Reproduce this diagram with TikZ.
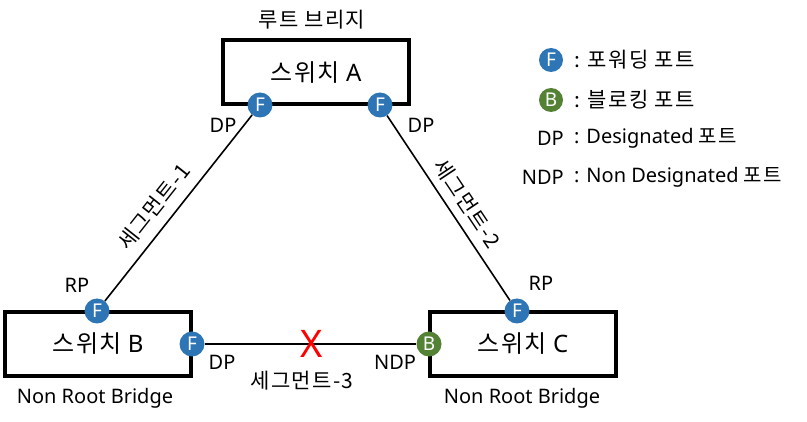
\documentclass[tikz,border=0pt]{standalone}
\usepackage{fontspec}
\setmainfont{Noto Sans}
\newfontfamily\kr[LetterSpace=6]{Noto Sans CJK KR}
\definecolor{portblue}{HTML}{2E75B6}
\definecolor{portgreen}{HTML}{548235}
\begin{document}
\begin{tikzpicture}[x=1pt,y=-1pt,
  sw/.style={draw, line width=4pt, minimum width=186pt, minimum height=64pt, inner sep=0, font=\fontsize{24}{27}\selectfont},
  fport/.style={circle, fill=portblue, text=white, minimum size=25pt, inner sep=0, font=\fontsize{19}{21}\selectfont},
  bport/.style={fport, fill=portgreen},
  lbl/.style={inner sep=0, font=\fontsize{20}{23}\selectfont},
  klbl/.style={inner sep=0, font=\kr\fontsize{21}{24}\selectfont},
  link/.style={line width=1.6pt},
  redx/.style={inner sep=0, text=red, font=\fontsize{38}{40}\selectfont},
]
\useasboundingbox (0,0) rectangle (807,422);

% switches
\node[sw] (A) at (316,72.5) {{\kr 스위치} A};
\node[sw] (B) at (98,344) {{\kr 스위치} B};
\node[sw] (C) at (523,344) {{\kr 스위치} C};

% ports
\node[fport] (pA1) at (260,105) {F};
\node[fport] (pA2) at (380,105) {F};
\node[fport] (pB1) at (97,311) {F};
\node[fport] (pB2) at (192,344) {F};
\node[fport] (pC1) at (517,311) {F};
\node[bport] (pC2) at (429,344) {B};

% links
\draw[link] (pB1) -- node[klbl, sloped, above=10pt, pos=0.44] (s1) {세그먼트-1} (pA1);
\draw[link] (pA2) -- node[klbl, sloped, above=8pt, pos=0.53] (s2) {세그먼트-2} (pC1);
\draw[link] (pB2) -- (pC2);
\node[redx] (x) at (312,344) {X};
\node[klbl] (s3) at (302,381) {세그먼트-3};

% labels
\node[klbl] (root) at (312,20) {루트 브리지};
\node[lbl] at (223,125) {DP};
\node[lbl] at (421,125) {DP};
\node[lbl] at (77,285) {RP};
\node[lbl] at (541,283) {RP};
\node[lbl] at (222,362) {DP};
\node[lbl] at (395,362) {NDP};
\node[lbl] at (95,398) {Non Root Bridge};
\node[lbl] at (522,398) {Non Root Bridge};

% legend
\node[fport, minimum size=24pt] (lf) at (551,60) {F};
\node[klbl, anchor=west] (lft) at (574,60) {: 포워딩 포트};
\node[bport, minimum size=24pt] (lb) at (551,100) {B};
\node[klbl, anchor=west] (lbt) at (574,100) {: 블로킹 포트};
\node[lbl, anchor=east] (ldp) at (564,138) {DP};
\node[lbl, anchor=west] (ldpt) at (574,138) {: Designated\ {\kr 포트}};
\node[lbl, anchor=east] (lndp) at (564,177) {NDP};
\node[lbl, anchor=west] (lndpt) at (574,177) {: Non Designated\ {\kr 포트}};
\end{tikzpicture}
\end{document}
